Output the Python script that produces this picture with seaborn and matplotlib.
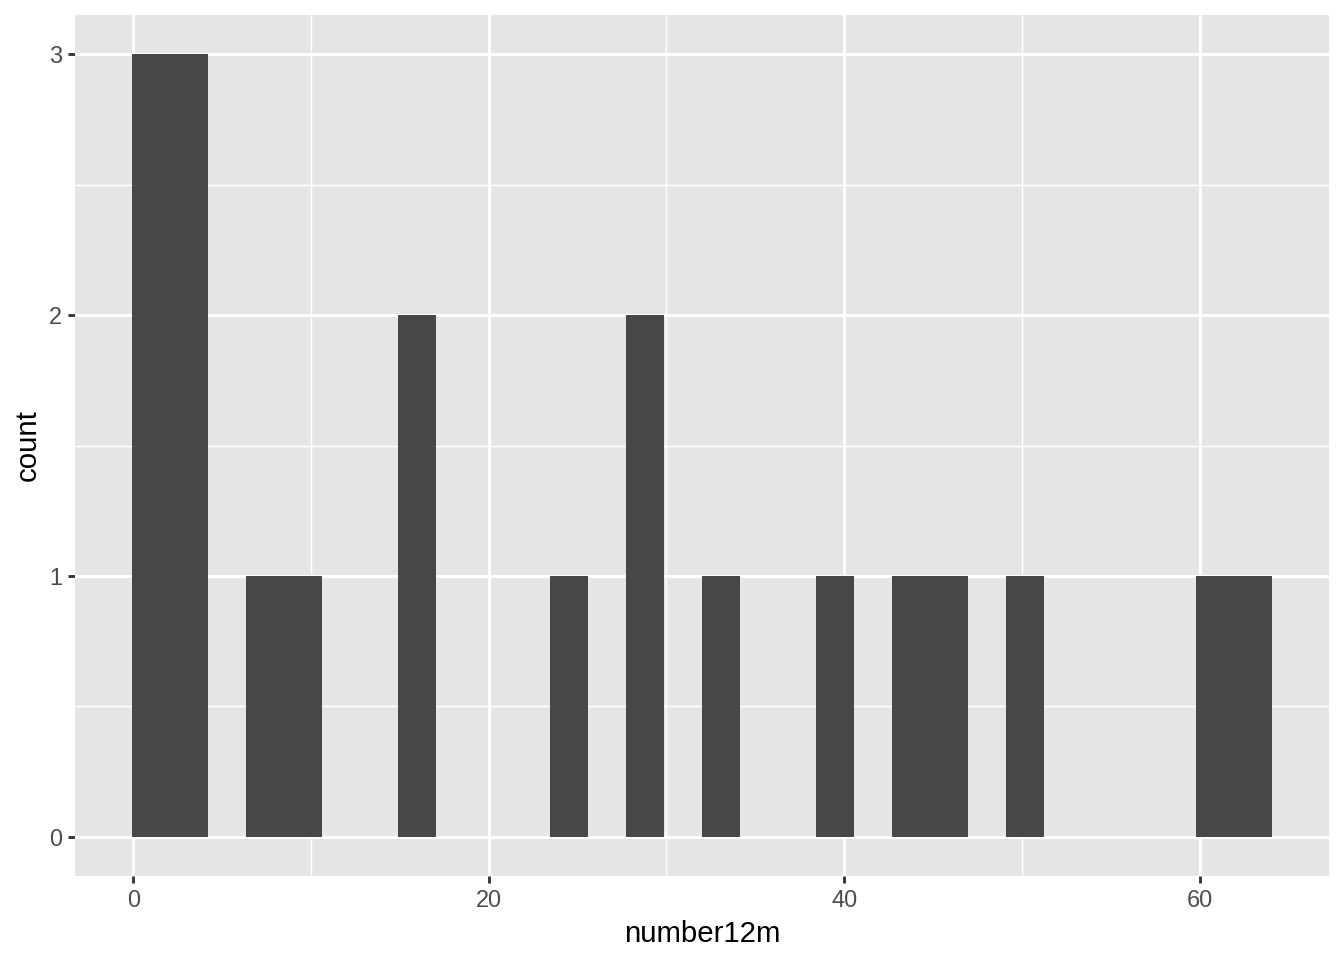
import numpy as np
import pandas as pd
import seaborn as sns
import matplotlib
matplotlib.use("Agg")
import matplotlib.pyplot as plt

# Data
number12m = [1, 1, 2, 3, 3, 4, 7, 9, 15, 16, 24, 28, 29, 33, 39, 44, 46, 50, 60, 63]
x_ticks = [0, 20, 40, 60]
y_ticks = [0, 1, 2, 3]
n_bins = 30

df = pd.DataFrame({"number12m": number12m})

# ggplot2-style bin edges for bins=30
lo, hi = min(number12m), max(number12m)
width = (hi - lo) / (n_bins - 1)
origin = lo - width / 2
edges = origin + width * np.arange(n_bins + 1)

sns.set_theme(style="darkgrid")
plt.rcParams["font.family"] = ["Liberation Sans", "DejaVu Sans"]

fig, ax = plt.subplots(figsize=(7, 5), dpi=192)
fig.subplots_adjust(left=75/1344, right=1329/1344, top=1-15/960, bottom=1-876/960)

sns.histplot(data=df, x="number12m", bins=edges, ax=ax, color="#474747",
             edgecolor="none", linewidth=0, alpha=1, zorder=3)

ax.set_facecolor("#E5E5E5")
ax.grid(False)
for v in [10, 30, 50]:
    ax.axvline(v, color="white", lw=0.55, zorder=1)
for v in [0.5, 1.5, 2.5]:
    ax.axhline(v, color="white", lw=0.55, zorder=1)
for v in x_ticks:
    ax.axvline(v, color="white", lw=1.1, zorder=2)
for v in y_ticks:
    ax.axhline(v, color="white", lw=1.1, zorder=2)

span = edges[-1] - edges[0]
ax.set_xlim(edges[0] - 0.05 * span, edges[-1] + 0.05 * span)
ax.set_ylim(-0.15, 3.15)
ax.set_xticks(x_ticks)
ax.set_yticks(y_ticks)
for s in ax.spines.values():
    s.set_visible(False)

ax.tick_params(axis="both", which="major", length=2.75, width=1.07, color="#333333",
               labelsize=8.8, labelcolor="#4D4D4D", pad=2.2, bottom=True, left=True)
ax.set_xlabel("number12m", fontsize=11, color="black", labelpad=2.75)
ax.set_ylabel("count", fontsize=11, color="black", labelpad=2.75)

fig.savefig("out.png", dpi=192, facecolor="white")
